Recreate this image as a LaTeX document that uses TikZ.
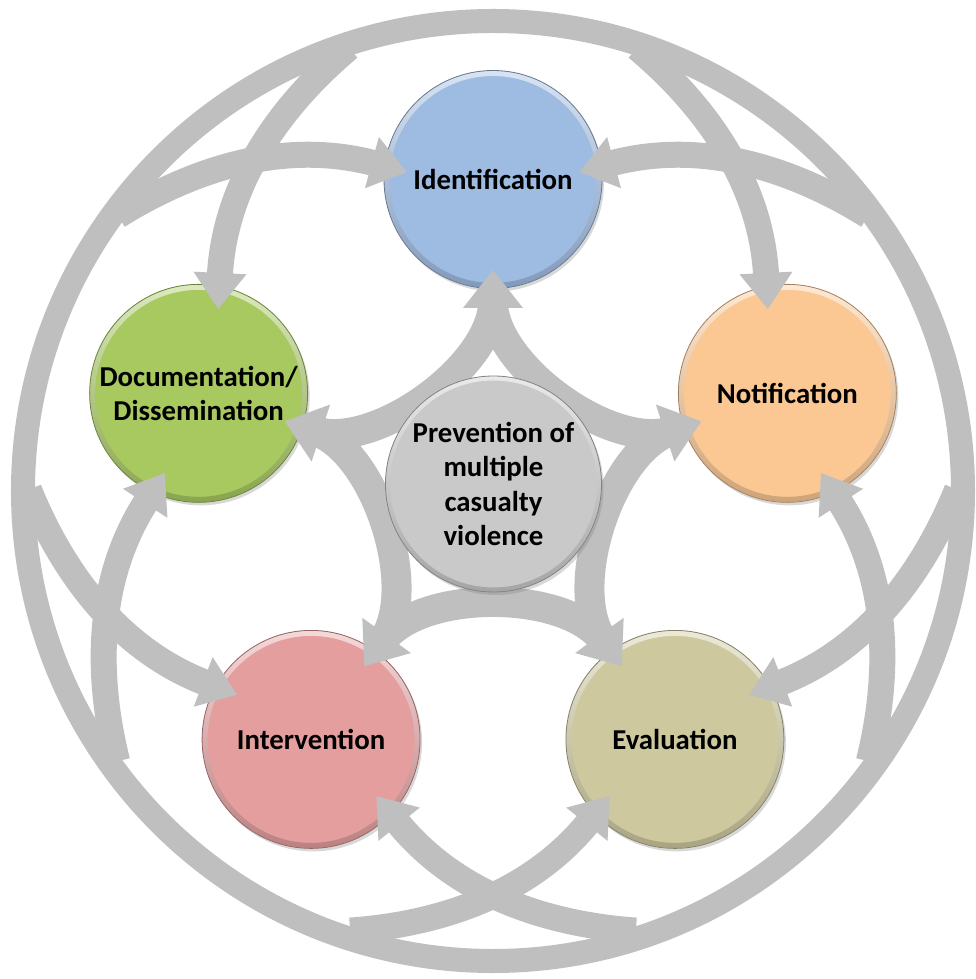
\documentclass[tikz,border=0pt]{standalone}
\usepackage{fontspec}
\setmainfont{Carlito}
\usetikzlibrary{shadows}
\definecolor{arrowgray}{HTML}{BFBFBF}
\definecolor{identblue}{HTML}{9EBBE2}
\definecolor{docgreen}{HTML}{A7C95F}
\definecolor{notiforange}{HTML}{FBC793}
\definecolor{intred}{HTML}{E59E9E}
\definecolor{evaltan}{HTML}{CEC89E}
\definecolor{centergray}{HTML}{C9C9C9}
\begin{document}
\begin{tikzpicture}[x=1pt,y=1pt,
  bubble/.style={circle, minimum size=218pt, inner sep=0pt, align=center,
    font=\bfseries\fontsize{28.8}{34.2}\selectfont, text=black,
    fill=#1, draw=#1!65!black, line width=0.8pt,
    drop shadow={shadow xshift=2pt, shadow yshift=-3pt, opacity=0.3},
    path picture={
      \shade[top color=#1!40!white, bottom color=#1!82!black, even odd rule]
        (path picture bounding box.center) circle (108.6)
        (path picture bounding box.center) circle (103.5);
    }},
  ringline/.style={draw=arrowgray, line width=24pt},
  band/.style={draw=arrowgray, line width=26pt},
  innerband/.style={draw=arrowgray, line width=30pt},
  ahead/.style={fill=arrowgray},
]
\useasboundingbox (-493,-490) rectangle (482,489);
\fill[white] (-493,-490) rectangle (482,489);

% outer ring
\draw[ringline] (0,-2) circle (470);

% outer nodes
\node[bubble=identblue]   (ident)  at (90:309.5)  {Identification};
\node[bubble=docgreen]    (doc)    at (162:309.5) {Documentation/\\Dissemination};
\node[bubble=intred]      (interv) at (234:309.5) {Intervention};
\node[bubble=evaltan]     (eval)   at (306:309.5) {Evaluation};
\node[bubble=notiforange] (notif)  at (18:309.5)  {Notification};

% long double arcs around each outer node
\foreach \k in {0,...,4}{
  \begin{scope}[rotate=72*\k]
    \draw[band] (273.2,212) .. controls (268,318) and (197.6,396.2) .. (144,441.2);
    \draw[band] (-273.2,212) .. controls (-268,318) and (-197.6,396.2) .. (-144,441.2);
    \fill[ahead] (274.8,180) -- (299.5,217.3) -- (246.5,214.7) -- cycle;
    \fill[ahead] (-274.8,180) -- (-299.5,217.3) -- (-246.5,214.7) -- cycle;
  \end{scope}
}

% inner star of arrows from the centre
\foreach \k in {0,...,4}{
  \begin{scope}[rotate=72*\k]
    \draw[innerband] (0,183) .. controls (-5.4,121.2) and (-113.6,42.6) .. (162:183);
    \fill[ahead] (0,219) -- (30,181) -- (-30,181) -- cycle;
  \end{scope}
}

% centre node
\node[bubble=centergray, minimum size=216pt] (prev) at (0.5,5)
  {Prevention of\\multiple\\casualty\\violence};
\end{tikzpicture}
\end{document}
